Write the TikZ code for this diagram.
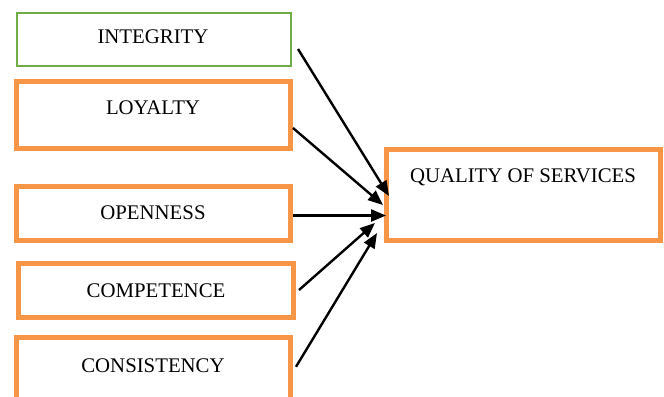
\documentclass[tikz,border=0pt]{standalone}
\usepackage{fontspec}
\setmainfont{Liberation Serif}
\usetikzlibrary{arrows.meta,calc}
\definecolor{orng}{HTML}{F79646}
\definecolor{grn}{HTML}{70AD47}
\begin{document}
\begin{tikzpicture}[x=1bp,y=-1bp,
  box/.style={rectangle, inner sep=0pt, outer sep=0pt},
  obox/.style={box, draw=orng, line width=5bp},
  gbox/.style={box, draw=grn, line width=2.2bp},
  lbl/.style={anchor=base, inner sep=0pt, font=\fontsize{20.8bp}{24bp}\selectfont},
  arr/.style={line width=2.4bp, -{Triangle[length=15bp,width=12bp]}}]
\useasboundingbox (0,0) rectangle (664,396);
% boxes
\node[gbox, minimum width=274bp, minimum height=53bp] (int) at (154,39.5) {};
\node[obox, minimum width=274bp, minimum height=67bp] (loy) at (153.5,115) {};
\node[obox, minimum width=274bp, minimum height=54bp] (opn) at (153.5,213.5) {};
\node[obox, minimum width=275bp, minimum height=54bp] (cmp) at (156,290.5) {};
\node[obox, minimum width=274bp, minimum height=62.5bp] (cns) at (153.5,368.75) {};
\node[obox, minimum width=274bp, minimum height=91bp] (qos) at (523.5,195) {};
% labels
\node[lbl] (intt) at (153,43) {INTEGRITY};
\node[lbl] (loyt) at (153,114) {LOYALTY};
\node[lbl] (opnt) at (153,219) {OPENNESS};
\node[lbl] (cmpt) at (156,297) {COMPETENCE};
\node[lbl] (cnst) at (153,372) {CONSISTENCY};
\node[lbl] (qost) at (523,182) {QUALITY OF SERVICES};
% arrows
\draw[arr] ($(int.east)+(7,9.5)$) -- ($(qos.west)+(2.5,1)$);
\draw[arr] ($(loy.east)+(2.5,13)$) -- ($(qos.west)+(-3.5,10)$);
\draw[arr] ($(opn.east)+(2.5,2)$) -- ($(qos.west)+(-0.5,20.5)$);
\draw[arr] ($(cmp.east)+(5.5,-0.5)$) -- ($(qos.west)+(-11.5,28)$);
\draw[arr] ($(cns.east)+(5.5,-2)$) -- ($(qos.west)+(-9.5,38)$);
\end{tikzpicture}
\end{document}
